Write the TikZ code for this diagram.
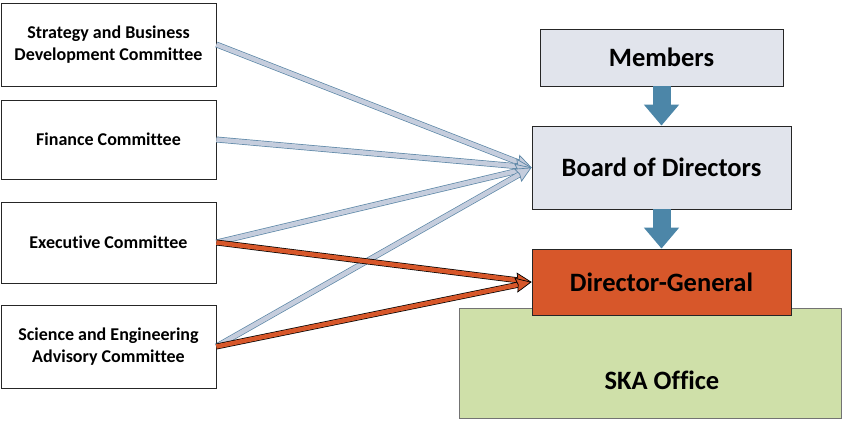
\documentclass[tikz,border=0pt]{standalone}
\usepackage{fontspec}
\setmainfont{Carlito}[Ligatures=NoCommon]
\usetikzlibrary{arrows.meta}
\definecolor{boardfill}{HTML}{E1E4EC}
\definecolor{dgfill}{HTML}{D7572A}
\definecolor{officefill}{HTML}{CFE0A9}
\definecolor{steel}{HTML}{4C86A8}
\definecolor{feedfill}{HTML}{C5CDDD}
\definecolor{feededge}{HTML}{5B86A6}
\begin{document}
\begin{tikzpicture}[x=1pt,y=-1pt,
    committee/.style={draw=black!85,fill=white,line width=0.8pt,minimum width=215pt,
      align=center,font=\fontsize{18}{22}\selectfont\bfseries,inner sep=0pt},
    govbox/.style={draw=black!85,fill=boardfill,line width=0.8pt,minimum width=259pt,
      font=\fontsize{26.5}{30}\selectfont\bfseries,inner sep=0pt},
    feed/.style={draw=feededge,double=feedfill,double distance=4.5pt,line width=0.7pt,
      -{Stealth[length=16pt,width=15pt,inset=2pt,fill=feedfill]}},
    report/.style={draw=black,double=dgfill,double distance=4.5pt,line width=0.7pt,
      -{Stealth[length=16pt,width=15pt,inset=2pt,fill=dgfill]}},
    blockarrow/.style={draw=steel,line width=18pt,
      -{Triangle[length=21pt,width=34pt]}}]
                \useasboundingbox (0,0) rectangle (842,423);
                \node[committee,minimum height=83pt] (strategy) at (108.5,44.5) {Strategy and Business\\Development Committee};
                \node[committee,minimum height=79pt] (finance) at (108.5,139.5) {Finance Committee};
                \node[committee,minimum height=81pt] (executive) at (108.5,242.5) {Executive Committee};
                \node[committee,minimum height=83pt] (science) at (108.5,346.5) {Science and Engineering\\Advisory Committee};
                \node[draw=black!55,fill=officefill,line width=0.8pt,minimum width=382pt,minimum height=110pt] (office) at (650,363) {};
                \node[font=\fontsize{26.5}{30}\selectfont\bfseries] (officetext) at (662,380) {SKA Office};
                \node[govbox,minimum width=243pt,minimum height=57pt] (members) at (661.5,57.5) {Members};
                \node[govbox,minimum height=83pt] (board) at (661.5,167.5) {Board of Directors};
                \node[govbox,fill=dgfill,minimum height=66pt] (dg) at (661.5,282) {Director-General};
                \draw[blockarrow] (members) -- (board);
                \draw[blockarrow] (board) -- (dg);
                \draw[feed] (strategy.east) -- (board.west);
                \draw[feed] (finance.east) -- (board.west);
                \draw[feed] (executive.east) -- (board.west);
                \draw[feed] (science.east) -- (board.west);
                \draw[report] (executive.east) -- (dg.west);
                \draw[report] (science.east) -- (dg.west);
            \end{tikzpicture}
\end{document}
